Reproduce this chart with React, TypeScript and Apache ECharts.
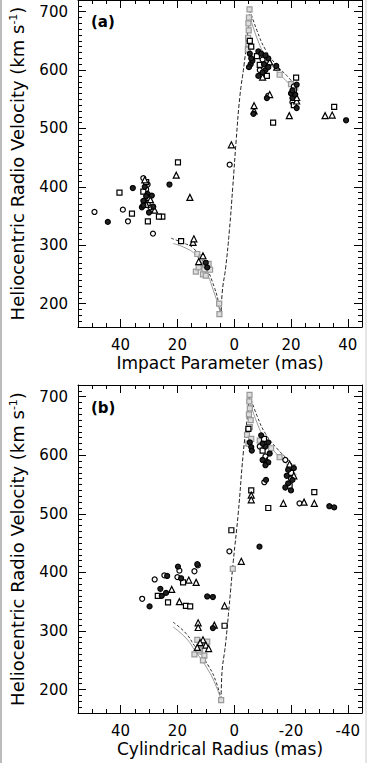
import React, { useEffect, useRef } from "react";
import * as echarts from "echarts";

// ---------- axis definitions ----------
const xMin = -45;
const xMax = 55;
const yMin = 160;
const yMax = 720;
const xMajorTicks = [-40, -20, 0, 20, 40];
const yMajorTicks = [200, 300, 400, 500, 600, 700];
const panelLabels = ["(a)", "(b)"];
const xTitles = ["Impact Parameter (mas)", "Cylindrical Radius (mas)"];

// ---------- panel (a) data : [impact parameter (mas), velocity (km/s)] ----------
const aOpenCircles = [
  [49.2, 357], [39.2, 361], [37.4, 341], [28.6, 320], [1.6, 438], [31, 396], [30, 380],
  [-9, 600], [-20.5, 545], [-12, 556], [32, 415], [29.5, 365], [30.5, 404], [-10, 618],
  [-21, 572],
];
const aOpenSquares = [
  [40.4, 390], [36, 354], [30.4, 341], [25.3, 349], [26.5, 349], [19.8, 442], [18.7, 307],
  [-21.8, 587], [-35.2, 537], [-8, 624], [-21, 565], [-13.7, 510], [31, 408], [-21, 540],
  [32, 392], [30.5, 372], [-9, 609], [-11.5, 590], [-6, 640], [-5.5, 650],
];
const aTriangles = [
  [20.4, 420], [15.6, 382], [14.5, 305], [14.2, 311], [1.0, 472], [-7, 530], [-7, 539],
  [-19.4, 522], [-32, 522], [-34.5, 523], [28, 360], [31, 370], [-10, 588], [-15, 605],
  [11, 282], [12.5, 272], [-22, 547], [-12.5, 558], [31.5, 412], [29.5, 378], [-12.5, 614],
  [-22, 553],
];
const aFilled = [
  [44.5, 340], [35.7, 398], [22.8, 404], [32.5, 365], [-5.8, 610], [-6.4, 616], [-11, 600],
  [-8.5, 590], [-20.5, 552], [-39.4, 514], [-11.5, 552], [-20, 560], [31.5, 400], [29, 385],
  [30, 356], [-6.8, 525], [-8.5, 632], [-10.5, 610], [-12, 620], [-9.5, 628], [-11, 625],
  [-14.8, 607], [-22, 535], [-21.5, 558], [-5.5, 628], [-6, 620], [10, 270], [9.5, 262],
  [32, 376], [30.5, 388], [31, 384], [32, 368], [28.5, 366], [-10, 596], [-12, 605],
  [-20.5, 565], [-22, 575], [-5.2, 605],
];
const aGrey = [
  [-5.4, 704], [-5.2, 690], [-5, 680], [-5.1, 668], [-4.9, 655], [-5.0, 645], [-4.8, 635],
  [-9, 625], [-12, 612], [-16, 592], [-20, 576], [-21.5, 570],
  [13, 285], [11.5, 279], [12, 265], [10.5, 258], [9, 268], [13.5, 255], [11, 250], [8.5, 258],
  [12.5, 262], [10, 248], [5.2, 182], [5.3, 200],
];

// ---------- panel (b) data : [cylindrical radius (mas), velocity (km/s)] ----------
const bOpenCircles = [
  [14, 402], [19.3, 403], [20, 392], [28, 388], [32.4, 355], [1.7, 436], [-10.6, 554],
  [-18, 592], [-11, 598], [-23, 518], [24.6, 395], [12.8, 412], [-9, 615], [-20, 560],
];
const bOpenSquares = [
  [1, 472], [3.4, 309], [23.3, 349], [17, 343], [15.5, 342], [-12, 510], [-28.2, 537],
  [-10, 608], [-20, 570], [26.9, 360], [18, 383], [-6, 540], [-5, 645], [-10.5, 628],
  [-19.5, 548],
];
const bTriangles = [
  [-2.5, 419], [3.4, 343], [19.3, 350], [13.4, 383], [12.7, 314], [12.7, 306], [7, 310],
  [-17.3, 518], [-24.6, 520], [-28.2, 518], [-6, 532], [-6, 524], [22, 371], [-19.5, 585],
  [11, 285], [12, 280], [10, 276], [13, 272], [9, 270], [16, 387], [-11.5, 590],
  [-21, 565],
];
const bFilled = [
  [-8.9, 444], [13, 414], [23.6, 394], [29.8, 342], [9.5, 359], [7.5, 358], [24, 365],
  [25.5, 360], [18.7, 390], [7.5, 305], [-6, 614], [-6.2, 608], [-9.5, 634], [-12, 622],
  [-11, 615], [-12.5, 603], [-10, 592], [-12, 588], [-11, 583], [-21, 578], [-18.5, 565],
  [-20.5, 558], [-19, 552], [-18, 545], [-20, 540], [-11.2, 558], [-33.5, 513], [-35.2, 511],
  [19.8, 410], [-5.5, 622], [-10, 620], [-19, 575], [26, 372],
];
const bGrey = [
  [-5.4, 703], [-5.3, 692], [-5.5, 680], [-5.2, 670], [-5.8, 660], [-5.5, 648], [-4.5, 635],
  [-6, 628], [-5, 620], [0.5, 406], [-9, 625], [-13, 612], [-16, 597], [-20.5, 580],
  [13, 285], [11.5, 278], [12, 265], [10.5, 258], [14, 260], [11, 250], [9.5, 282], [12.5, 268],
  [4.6, 182],
];

// ---------- model curves ----------
const aSteep = [
  [4.6, 177], [4.2, 220], [3, 262], [1.7, 325], [0.5, 400], [-0.7, 480], [-2, 555],
  [-3.5, 610], [-5, 675], [-5.5, 703],
];
const aUpper1 = [[-5.5, 703], [-8, 668], [-11, 635], [-15, 608], [-19, 588], [-22, 570]];
const aUpper2 = [[-5.5, 693], [-8, 655], [-11, 624], [-15, 598], [-19, 578], [-22, 560]];
const aLower1 = [[22.2, 312], [18, 304], [14.4, 295], [10.6, 269], [7, 228], [5.2, 195], [4.6, 177]];
const aLower2 = [[21.5, 303], [17, 295], [13.5, 283], [10, 256], [7, 218], [5.2, 190], [4.6, 177]];

const bSteep = [
  [4.6, 182], [4.4, 221], [3, 280], [1.8, 341], [0.3, 420], [-1.4, 500], [-3.2, 604],
  [-4.5, 660], [-5.4, 703],
];
const bUpper1 = [[-5.4, 703], [-8, 668], [-11, 637], [-15, 612], [-19, 592], [-22, 576]];
const bUpper2 = [[-5.4, 693], [-8, 656], [-11, 626], [-15, 602], [-19, 582], [-22, 566]];
const bLower1 = [[21.5, 315], [17, 296], [14, 275], [9, 240], [6.3, 212], [4.6, 182]];
const bLower2 = [[21.5, 307], [17, 288], [14, 268], [9, 232], [6.3, 205], [4.6, 182]];

const FONT = "DejaVu Sans";

const panels = [
  {
    circles: aOpenCircles, squares: aOpenSquares, triangles: aTriangles, filled: aFilled, grey: aGrey,
    steep: aSteep, upper1: aUpper1, upper2: aUpper2, lower1: aLower1, lower2: aLower2,
    absLabels: true,
  },
  {
    circles: bOpenCircles, squares: bOpenSquares, triangles: bTriangles, filled: bFilled, grey: bGrey,
    steep: bSteep, upper1: bUpper1, upper2: bUpper2, lower1: bLower1, lower2: bLower2,
    absLabels: false,
  },
];

export default function App() {
  const ref = useRef<HTMLDivElement>(null);

  useEffect(() => {
    if (!ref.current) return;
    const chart = echarts.init(ref.current, null, { renderer: "svg" });

    const gridTops = [-1, 385];
    const grids = gridTops.map((t) => ({ left: 78, top: t, width: 284, height: 328 }));

    const xAxes: any[] = [];
    const yAxes: any[] = [];
    const series: any[] = [];
    const lineCol = "#000";

    panels.forEach((p, gi) => {
      const base = xAxes.length;
      xAxes.push({
        type: "value", gridIndex: gi, position: "bottom", min: xMin, max: xMax, interval: 5,
        inverse: true,
        name: xTitles[gi], nameLocation: "middle", nameGap: 27,
        nameTextStyle: { fontFamily: FONT, fontSize: 17, color: "#000" },
        axisLine: { show: true, onZero: false, lineStyle: { color: lineCol, width: 1 } },
        axisTick: { show: true, inside: true, length: 4, lineStyle: { color: lineCol } },
        axisLabel: {
          margin: 10, fontFamily: FONT, fontSize: 15, color: "#000",
          formatter: (v: number) => (v % 20 === 0 ? String(p.absLabels ? Math.abs(v) : v) : ""),
        },
        splitLine: { show: false },
      });
      xAxes.push({
        type: "value", gridIndex: gi, position: "bottom", min: xMin, max: xMax, inverse: true,
        axisLine: { show: false, onZero: false },
        axisTick: { show: true, inside: true, length: 8, customValues: xMajorTicks, lineStyle: { color: lineCol } },
        axisLabel: { show: false }, splitLine: { show: false },
      });
      xAxes.push({
        type: "value", gridIndex: gi, position: "top", min: xMin, max: xMax, interval: 5, inverse: true,
        axisLine: { show: true, onZero: false, lineStyle: { color: lineCol, width: 1 } },
        axisTick: { show: true, inside: true, length: 4, lineStyle: { color: lineCol } },
        axisLabel: { show: false }, splitLine: { show: false },
      });
      xAxes.push({
        type: "value", gridIndex: gi, position: "top", min: xMin, max: xMax, inverse: true,
        axisLine: { show: false, onZero: false },
        axisTick: { show: true, inside: true, length: 8, customValues: xMajorTicks, lineStyle: { color: lineCol } },
        axisLabel: { show: false }, splitLine: { show: false },
      });

      const yb = yAxes.length;
      yAxes.push({
        type: "value", gridIndex: gi, position: "left", min: yMin, max: yMax, interval: 10,
        name: "Heliocentric Radio Velocity (km s{sup|-1})",
        nameLocation: "middle", nameGap: 52,
        nameTextStyle: {
          fontFamily: FONT, fontSize: 18, color: "#000",
          rich: { sup: { fontFamily: FONT, fontSize: 11, verticalAlign: "top", padding: [0, 0, 6, 0] } },
        },
        axisLine: { show: true, onZero: false, lineStyle: { color: lineCol, width: 1 } },
        axisTick: { show: true, inside: true, length: 4, lineStyle: { color: lineCol } },
        axisLabel: {
          margin: 10, fontFamily: FONT, fontSize: 15, color: "#000",
          formatter: (v: number) => (v % 100 === 0 ? String(v) : ""),
        },
        splitLine: { show: false },
      });
      yAxes.push({
        type: "value", gridIndex: gi, position: "left", min: yMin, max: yMax,
        axisLine: { show: false, onZero: false },
        axisTick: { show: true, inside: true, length: 8, customValues: yMajorTicks, lineStyle: { color: lineCol } },
        axisLabel: { show: false }, splitLine: { show: false },
      });
      yAxes.push({
        type: "value", gridIndex: gi, position: "right", min: yMin, max: yMax, interval: 10,
        axisLine: { show: true, onZero: false, lineStyle: { color: lineCol, width: 1 } },
        axisTick: { show: true, inside: true, length: 4, lineStyle: { color: lineCol } },
        axisLabel: { show: false }, splitLine: { show: false },
      });
      yAxes.push({
        type: "value", gridIndex: gi, position: "right", min: yMin, max: yMax,
        axisLine: { show: false, onZero: false },
        axisTick: { show: true, inside: true, length: 8, customValues: yMajorTicks, lineStyle: { color: lineCol } },
        axisLabel: { show: false }, splitLine: { show: false },
      });

      const ax = { xAxisIndex: base, yAxisIndex: yb };
      const lineSeries = (data: number[][], color: string, type: any, width = 1) => ({
        type: "line", ...ax, data, showSymbol: false, symbol: "none", smooth: true, z: 1,
        lineStyle: { color, width, type }, silent: true,
      });
      series.push(lineSeries(p.steep, "#222", [4, 2], 1));
      series.push(lineSeries(p.upper1, "#333", [3, 2], 1));
      series.push(lineSeries(p.upper2, "#999", "solid", 1));
      series.push(lineSeries(p.lower1, "#333", [3, 2], 1));
      series.push(lineSeries(p.lower2, "#999", "solid", 1));

      const scatter = (data: number[][], symbol: string, size: number, fill: string, border: string) => ({
        type: "scatter", ...ax, data, symbol, symbolSize: size, z: 3,
        itemStyle: { color: fill, borderColor: border, borderWidth: 1.2, opacity: 1 },
      });
      series.push(scatter(p.grey, "rect", 5, "#ddd", "#999"));
      series.push(scatter(p.circles, "circle", 5, "#fff", "#000"));
      series.push(scatter(p.squares, "rect", 5, "#fff", "#000"));
      series.push(scatter(p.triangles, "triangle", 6, "#fff", "#000"));
      series.push(scatter(p.filled, "circle", 5, "#222", "#000"));
    });

    chart.setOption({
      animation: false,
      backgroundColor: "#fff",
      grid: grids,
      xAxis: xAxes,
      yAxis: yAxes,
      series,
      graphic: [
        { type: "text", left: 91, top: 14, style: { text: panelLabels[0], fontFamily: FONT, fontSize: 15, fontWeight: "bold", fill: "#000" } },
        { type: "text", left: 91, top: 400, style: { text: panelLabels[1], fontFamily: FONT, fontSize: 15, fontWeight: "bold", fill: "#000" } },
        { type: "line", shape: { x1: 1, y1: 0, x2: 1, y2: 763 }, style: { stroke: "#bbb", lineWidth: 2 } },
        { type: "line", shape: { x1: 366, y1: 0, x2: 366, y2: 763 }, style: { stroke: "#ccc", lineWidth: 1 } },
      ],
    });

    return () => chart.dispose();
  }, []);

  return (
    <div
      ref={ref}
      style={{ position: "fixed", left: 0, top: 0, width: 367, height: 763, background: "#fff" }}
    />
  );
}
